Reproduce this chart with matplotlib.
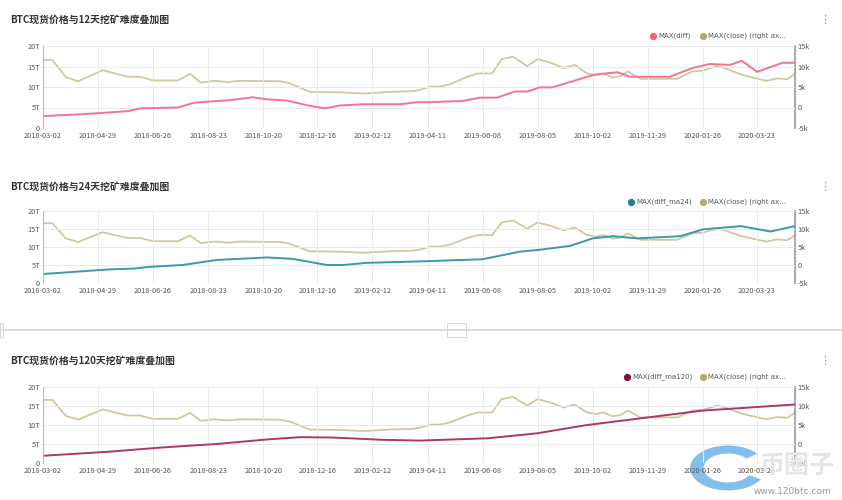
import matplotlib
matplotlib.use("Agg")
import matplotlib.pyplot as plt
from matplotlib.lines import Line2D
from matplotlib.patches import Rectangle, Wedge
import pandas as pd

plt.rcParams['font.family'] = ['Noto Sans CJK SC', 'DejaVu Sans']

# ── data ──────────────────────────────────────────────────────────────────────
close_dates = ["2018-03-02", "2018-03-12", "2018-03-26", "2018-04-08", "2018-05-04",
               "2018-05-30", "2018-06-12", "2018-06-26", "2018-07-22", "2018-08-04",
               "2018-08-15", "2018-08-30", "2018-09-13", "2018-09-25", "2018-11-07",
               "2018-11-17", "2018-12-08", "2019-01-09", "2019-02-02", "2019-03-02",
               "2019-03-27", "2019-04-03", "2019-04-14", "2019-04-24", "2019-05-05",
               "2019-05-23", "2019-06-03", "2019-06-18", "2019-06-28", "2019-07-10",
               "2019-07-25", "2019-08-05", "2019-08-20", "2019-09-01", "2019-09-13",
               "2019-09-26", "2019-10-06", "2019-10-13", "2019-10-23", "2019-10-31",
               "2019-11-08", "2019-11-21", "2019-12-30", "2020-01-15", "2020-01-26",
               "2020-02-10", "2020-02-18", "2020-03-08", "2020-04-02", "2020-04-13",
               "2020-04-24", "2020-05-02"]
close_k = [11.6, 11.6, 7.4, 6.4, 9.1,
           7.5, 7.5, 6.6, 6.6, 8.2,
           6.1, 6.5, 6.2, 6.5, 6.4,
           5.9, 3.8, 3.7, 3.4, 3.8,
           4.0, 4.3, 5.1, 5.1, 5.7,
           7.5, 8.3, 8.3, 11.8, 12.4,
           10.1, 11.8, 10.8, 9.6, 10.4,
           8.3, 7.9, 8.3, 7.3, 7.6,
           8.8, 7.0, 7.0, 8.8, 9.0,
           10.1, 9.6, 7.9, 6.5, 7.1,
           6.9, 8.3]

diff_dates = ["2018-03-02", "2018-04-15", "2018-05-30", "2018-06-13", "2018-07-22",
              "2018-08-09", "2018-09-15", "2018-10-09", "2018-10-24", "2018-11-14",
              "2018-12-08", "2018-12-24", "2019-01-09", "2019-02-02", "2019-03-13",
              "2019-03-31", "2019-04-14", "2019-05-18", "2019-06-05", "2019-06-23",
              "2019-07-12", "2019-07-25", "2019-08-07", "2019-08-20", "2019-09-01",
              "2019-09-26", "2019-10-06", "2019-10-20", "2019-10-28", "2019-11-10",
              "2019-12-22", "2020-01-16", "2020-02-02", "2020-02-24", "2020-03-07",
              "2020-03-23", "2020-04-19", "2020-05-02"]
diff_t = [2.9, 3.4, 4.1, 4.8, 5.0,
          6.2, 6.8, 7.5, 7.0, 6.7,
          5.4, 4.8, 5.5, 5.8, 5.8,
          6.3, 6.3, 6.6, 7.4, 7.4,
          8.9, 8.9, 9.9, 9.9, 10.7,
          12.5, 13.1, 13.4, 13.6, 12.5,
          12.5, 14.7, 15.6, 15.4, 16.4,
          13.7, 15.9, 15.9]

ma24_dates = ["2018-03-02", "2018-05-12", "2018-06-05", "2018-06-23", "2018-07-27",
              "2018-09-01", "2018-10-24", "2018-11-20", "2018-12-26", "2019-01-12",
              "2019-02-06", "2019-04-03", "2019-06-08", "2019-07-17", "2019-08-06",
              "2019-09-08", "2019-10-02", "2019-10-23", "2019-11-18", "2020-01-02",
              "2020-01-26", "2020-03-06", "2020-04-06", "2020-05-02"]
ma24_t = [2.5, 3.8, 4.0, 4.5, 5.0,
          6.4, 7.1, 6.7, 5.0, 5.0,
          5.6, 6.0, 6.6, 8.7, 9.2,
          10.3, 12.4, 13.0, 12.4, 13.0,
          14.9, 15.8, 14.3, 15.8]

ma120_dates = ["2018-03-02", "2018-05-12", "2018-07-06", "2018-09-01", "2018-10-24",
               "2018-11-28", "2019-01-01", "2019-02-23", "2019-04-03", "2019-06-13",
               "2019-08-04", "2019-09-26", "2019-11-07", "2019-12-12", "2020-01-26",
               "2020-03-03", "2020-05-02"]
ma120_t = [1.9, 3.0, 4.1, 5.0, 6.2,
           6.8, 6.7, 6.1, 5.9, 6.5,
           7.8, 10.0, 11.3, 12.4, 13.8,
           14.4, 15.4]

tick_dates = ["2018-03-02", "2018-04-29", "2018-06-26", "2018-08-23", "2018-10-20",
              "2018-12-16", "2019-02-12", "2019-04-11", "2019-06-08", "2019-08-05",
              "2019-10-02", "2019-11-29", "2020-01-26", "2020-03-23"]
left_ticks = [0, 5, 10, 15, 20]
left_labels = ["0", "5T", "10T", "15T", "20T"]
right_ticks = [-5, 0, 5, 10, 15]
right_labels = ["-5k", "0", "5k", "10k", "15k"]

titles = ["BTC现货价格与12天挖矿难度叠加图",
          "BTC现货价格与24天挖矿难度叠加图",
          "BTC现货价格与120天挖矿难度叠加图"]
series_names = ["MAX(diff)", "MAX(diff_ma24)", "MAX(diff_ma120)"]
close_name = "MAX(close) (right ax..."

# ── layout / style ────────────────────────────────────────────────────────────
W, H = 842, 500
series = [(diff_dates, diff_t), (ma24_dates, ma24_t), (ma120_dates, ma120_t)]
line_colors = ["#f27490", "#3a9aa8", "#a8386e"]
dot_colors = ["#ff5c73", "#1f7f8c", "#7a0f45"]
gold_line = "#d2c89f"
gold_dot = "#b5a86a"
# (plot top px, plot bottom px, title y px, legend y px, legend x px)
panels = [(46, 128, 20, 36, 653), (211, 283, 187, 202, 631), (387, 463, 361, 377, 627)]
x0_px, x1_px = 43, 795
GRID = "#e9e9e9"
TXT = "#555555"

fig = plt.figure(figsize=(W / 100, H / 100), dpi=100)
fig.patch.set_facecolor("white")

def fx(px): return px / W
def fy(py): return 1 - py / H

xmin = pd.Timestamp("2018-03-02")
xmax = pd.Timestamp("2020-05-02")
ticks = pd.to_datetime(tick_dates)

for i, (top, bot, ty, ly, lx) in enumerate(panels):
    ax = fig.add_axes([fx(x0_px), fy(bot), fx(x1_px - x0_px), (bot - top) / H])
    ax2 = ax.twinx()
    ax.set_zorder(ax2.get_zorder() + 1)
    ax.patch.set_visible(False)

    d, v = series[i]
    ax2.plot(pd.to_datetime(close_dates), close_k, color=gold_line, lw=1.3)
    ax.plot(pd.to_datetime(d), v, color=line_colors[i], lw=1.4)

    for a in (ax, ax2):
        a.set_xlim(xmin, xmax)
        for s in ("top", "bottom"):
            a.spines[s].set_visible(False)
    ax.spines["right"].set_visible(False)
    ax.spines["left"].set_color("#bbbbbb")
    ax2.spines["left"].set_visible(False)
    ax2.spines["right"].set_color("#999999")
    ax2.spines["right"].set_linewidth(1.2)

    ax.set_ylim(0, 20)
    ax.set_yticks(left_ticks)
    ax.set_yticklabels(left_labels)
    ax2.set_ylim(-5, 15)
    ax2.set_yticks(right_ticks)
    ax2.set_yticklabels(right_labels)
    ax.set_xticks(ticks)
    ax.set_xticklabels(tick_dates)
    ax.tick_params(axis="x", length=0, pad=3, labelsize=5.3, colors=TXT)
    ax.tick_params(axis="y", length=0, pad=2, labelsize=5.3, colors=TXT)
    ax2.tick_params(axis="y", length=0, pad=2, labelsize=5.3, colors=TXT)
    ax2.tick_params(axis="x", length=0, labelbottom=False)
    ax.grid(True, color=GRID, lw=0.7)
    ax.set_axisbelow(True)

    # title and menu
    fig.text(fx(10), fy(ty), titles[i], fontsize=7.1, fontweight="bold",
             color="#333333", va="center", ha="left")
    fig.text(fx(825), fy(ty), "\u22ee", fontsize=8, color="#888888",
             va="center", ha="center", family=["DejaVu Sans"])

    # legend
    fig.add_artist(Line2D([fx(lx)], [fy(ly)], marker="o", ms=4.2, color=dot_colors[i],
                          transform=fig.transFigure))
    fig.text(fx(lx + 5), fy(ly), series_names[i], fontsize=5, color=TXT,
             va="center", ha="left", family=["DejaVu Sans"])
    gx = 703
    fig.add_artist(Line2D([fx(gx)], [fy(ly)], marker="o", ms=4.2, color=gold_dot,
                          transform=fig.transFigure))
    fig.text(fx(gx + 5), fy(ly), close_name, fontsize=5, color=TXT,
             va="center", ha="left", family=["DejaVu Sans"])

# separator between second and third chart
fig.add_artist(Line2D([0, 1], [fy(330), fy(330)], color="#d6d6d6", lw=1.2,
                      transform=fig.transFigure))
fig.add_artist(Rectangle((fx(447), fy(337)), fx(19), 14 / H, fill=False,
                         edgecolor="#d0d0d0", lw=0.6, transform=fig.transFigure))
fig.add_artist(Rectangle((fx(0), fy(337)), fx(3), 14 / H, fill=False,
                         edgecolor="#d0d0d0", lw=0.6, transform=fig.transFigure))

# watermark
fig.add_artist(Wedge((fx(728), fy(468)), 0.045, 40, 330, width=0.016,
                     facecolor="#6cb4ea", edgecolor="none", alpha=0.85,
                     transform=fig.transFigure))
fig.text(fx(797), fy(466), "币圈子", fontsize=18, color="#e4e4e4", va="center",
         ha="center", fontweight="bold")
fig.text(fx(792), fy(492), "www.120btc.com", fontsize=6.5, color="#9a9a9a",
         va="center", ha="center", family=["DejaVu Sans"])

fig.savefig("out.png", dpi=100)
